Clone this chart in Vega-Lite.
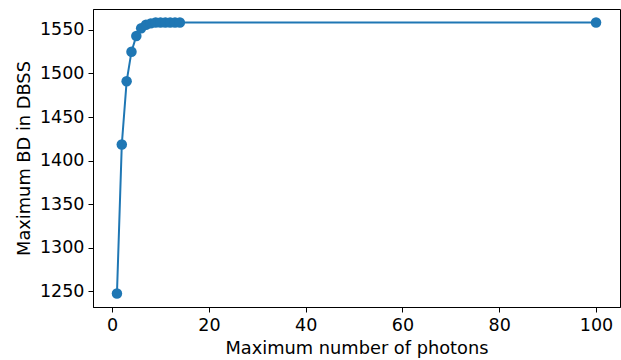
{
  "$schema": "https://vega.github.io/schema/vega-lite/v6.json",
  "width": 527,
  "height": 298,
  "autosize": {"type": "none"},
  "padding": {"left": 93, "top": 9, "right": 1, "bottom": 53},
  "config": {
    "font": "DejaVu Sans",
    "view": {"stroke": "black", "strokeWidth": 1},
    "axis": {
      "grid": false,
      "domainColor": "black",
      "tickColor": "black",
      "labelColor": "black",
      "titleColor": "black",
      "labelFontSize": 17.5,
      "titleFontSize": 17.8,
      "titleFontWeight": "normal",
      "tickSize": 5,
      "labelPadding": 4,
      "labelFont": "DejaVu Sans",
      "titleFont": "DejaVu Sans"
    }
  },
  "data": {
    "values": [
      {"n": 1, "bd": 1247.5},
      {"n": 2, "bd": 1418.5},
      {"n": 3, "bd": 1491},
      {"n": 4, "bd": 1525},
      {"n": 5, "bd": 1543},
      {"n": 6, "bd": 1552},
      {"n": 7, "bd": 1556},
      {"n": 8, "bd": 1557.5},
      {"n": 9, "bd": 1558.5},
      {"n": 10, "bd": 1558.5},
      {"n": 11, "bd": 1558.5},
      {"n": 12, "bd": 1558.5},
      {"n": 13, "bd": 1558.5},
      {"n": 14, "bd": 1558.5},
      {"n": 100, "bd": 1558.5}
    ]
  },
  "mark": {"type": "line", "color": "#1f77b4", "strokeWidth": 2, "point": {"filled": true, "size": 110, "color": "#1f77b4", "opacity": 1}},
  "encoding": {
    "x": {
      "field": "n", "type": "quantitative",
      "title": "Maximum number of photons",
      "scale": {"domain": [-3.95, 104.95], "nice": false, "zero": false},
      "axis": {"values": [0, 20, 40, 60, 80, 100], "format": "d", "titlePadding": 6}
    },
    "y": {
      "field": "bd", "type": "quantitative",
      "title": "Maximum BD in DBSS",
      "scale": {"domain": [1232, 1574], "nice": false, "zero": false},
      "axis": {"values": [1250, 1300, 1350, 1400, 1450, 1500, 1550], "format": "d", "titlePadding": 6}
    }
  }
}
